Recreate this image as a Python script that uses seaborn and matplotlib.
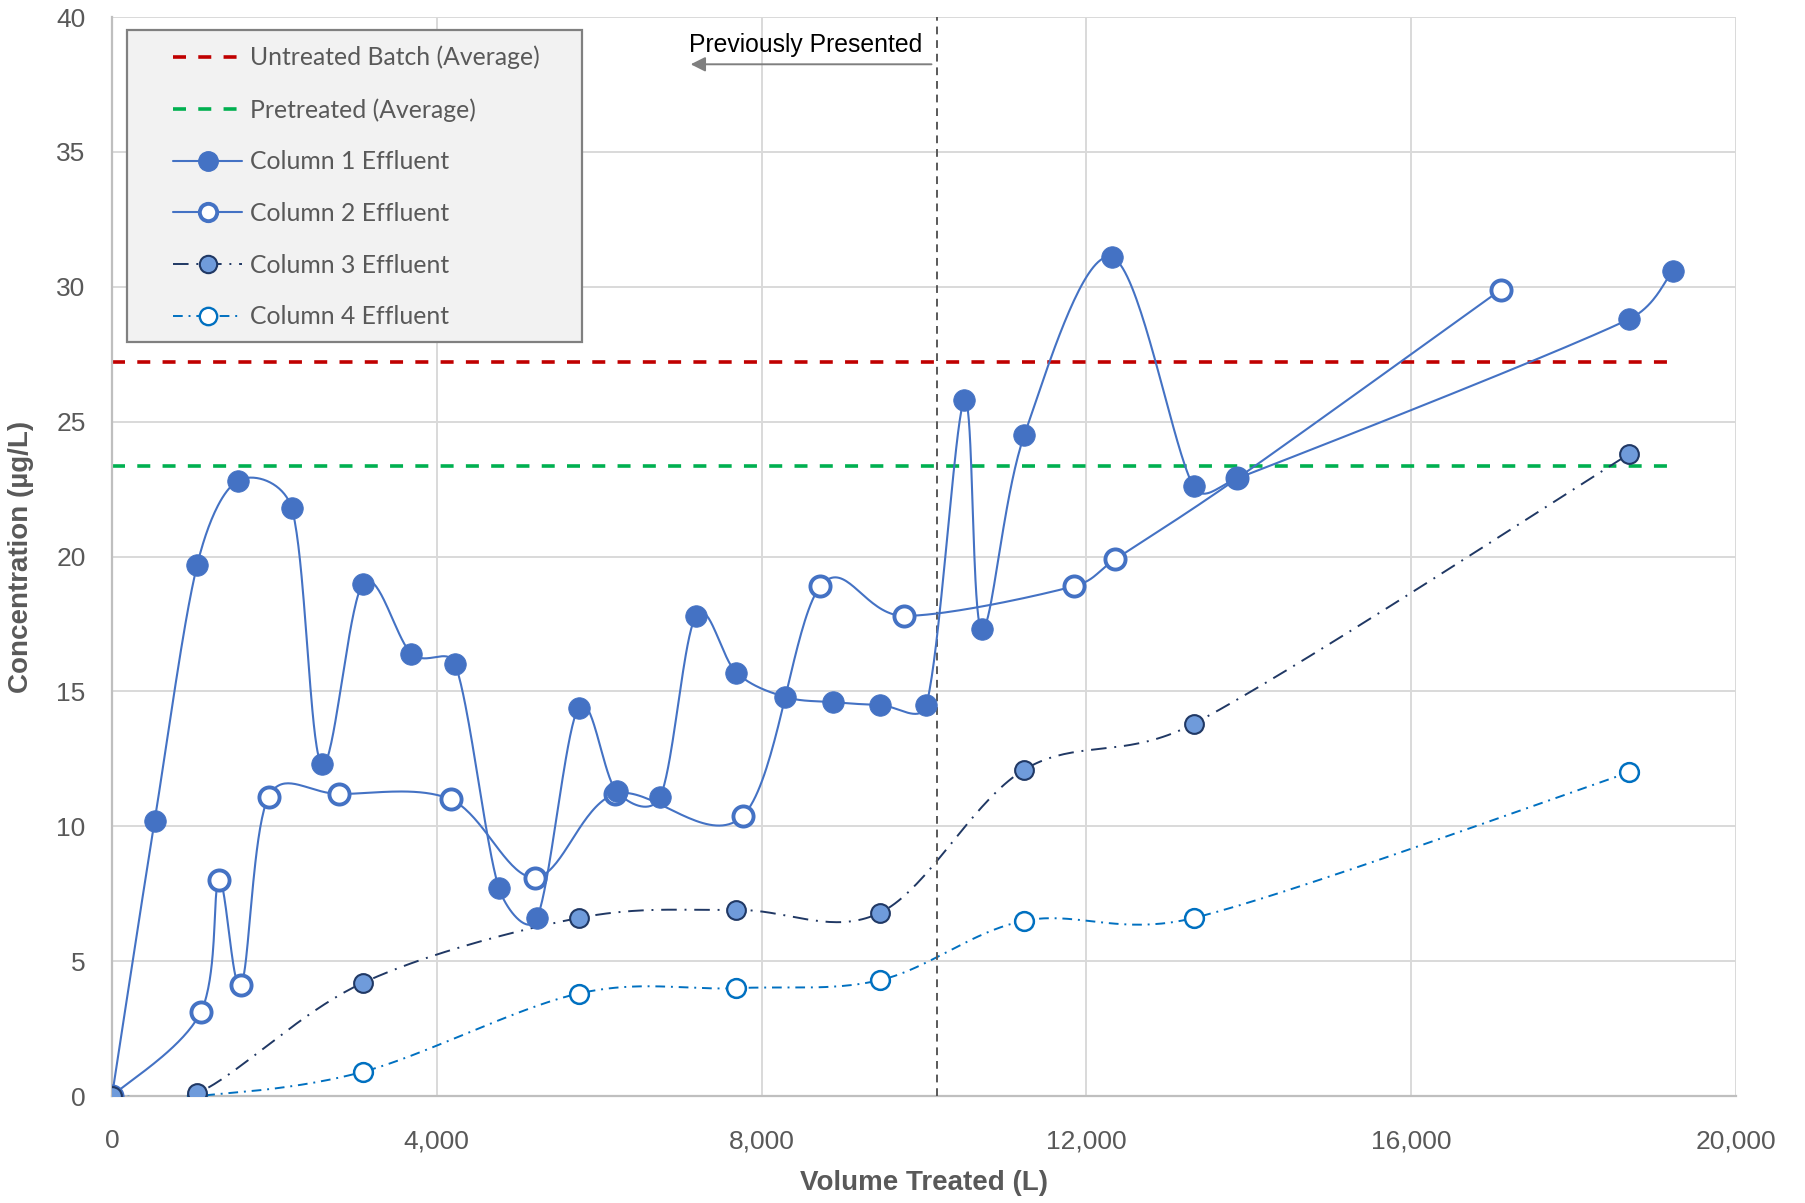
import numpy as np
import pandas as pd
import seaborn as sns
import matplotlib.pyplot as plt
from matplotlib.lines import Line2D
from matplotlib.patches import Rectangle

# data
vol_c1 = [0, 525, 1050, 1546, 2213, 2582, 3092, 3688, 4227, 4766, 5234, 5745, 6213, 6752,
          7191, 7688, 8284, 8879, 9461, 10028, 10496, 10709, 11234, 12312, 13319, 13858,
          18681, 19220]
conc_c1 = [0, 10.2, 19.7, 22.8, 21.8, 12.3, 19.0, 16.4, 16.0, 7.7, 6.6, 14.4, 11.3, 11.1,
           17.8, 15.7, 14.8, 14.6, 14.5, 14.5, 25.8, 17.3, 24.5, 31.1, 22.6, 22.9,
           28.8, 30.6]
vol_c2 = [0, 1092, 1319, 1589, 1929, 2794, 4170, 5206, 6199, 7773, 8723, 9759, 11844,
          12355, 13858, 17106]
conc_c2 = [0, 3.1, 8.0, 4.1, 11.1, 11.2, 11.0, 8.1, 11.2, 10.4, 18.9, 17.8, 18.9,
           19.9, 22.9, 29.9]
vol_c34 = [0, 1050, 3092, 5745, 7688, 9461, 11234, 13319, 18681]
conc_c3 = [0, 0.1, 4.2, 6.6, 6.9, 6.8, 12.1, 13.8, 23.8]
conc_c4 = [0, 0.0, 0.9, 3.8, 4.0, 4.3, 6.5, 6.6, 12.0]

untreated_avg = 27.2
pretreated_avg = 23.35
avg_range = [0, 19150]
prev_cutoff = 10156


def smooth(xs, ys, n=40):
    # excel style smoothed line (bezier through the points), worked out in
    # screen-like units so the control arms can be kept shorter than the segment
    sx, sy = 1.5 / 20000, 1.0 / 40
    p = np.column_stack([np.array(xs) * sx, np.array(ys) * sy]).astype(float)
    out = [p[0]]
    for i in range(len(p) - 1):
        p0 = p[i - 1] if i > 0 else p[i]
        p1, p2 = p[i], p[i + 1]
        p3 = p[i + 2] if i + 2 < len(p) else p[i + 1]
        seg = np.linalg.norm(p2 - p1)
        a1 = (p2 - p0) / 6
        a2 = (p3 - p1) / 6
        for a in (a1, a2):
            m = np.linalg.norm(a)
            if m > 0.45 * seg:
                a *= 0.45 * seg / m
        c1 = p1 + a1
        c2 = p2 - a2
        t = np.linspace(0, 1, n)[1:, None]
        pts = (1 - t) ** 3 * p1 + 3 * (1 - t) ** 2 * t * c1 + 3 * (1 - t) * t ** 2 * c2 + t ** 3 * p2
        out.extend(pts)
    out = np.array(out)
    return pd.DataFrame({'x': out[:, 0] / sx, 'y': out[:, 1] / sy})


sns.set_style("whitegrid")
plt.rcParams['font.family'] = ['Liberation Sans Narrow', 'Liberation Sans', 'DejaVu Sans']

fig = plt.figure(figsize=(18.06, 12.03), dpi=100)
ax = fig.add_axes([0.062, 0.0889, 0.8993, 0.8969])

blue = '#4472C4'
navy = '#203864'
lblue = '#0070C0'
c3fill = '#6F9BDB'

# reference averages
ax.plot(avg_range, [untreated_avg] * 2, color='#C00000', lw=2.6, dashes=(3.6, 3.4), zorder=2)
ax.plot(avg_range, [pretreated_avg] * 2, color='#00B050', lw=2.6, dashes=(3.6, 3.4), zorder=2)

# smoothed series
s4 = smooth(vol_c34, conc_c4)
sns.lineplot(data=s4, x='x', y='y', sort=False, estimator=None, ax=ax, color=lblue, lw=1.4,
             zorder=3)
ax.lines[-1].set_dashes((5, 3, 1, 3))
s3 = smooth(vol_c34, conc_c3)
sns.lineplot(data=s3, x='x', y='y', sort=False, estimator=None, ax=ax, color=navy, lw=1.4,
             zorder=3)
ax.lines[-1].set_dashes((8, 4, 1, 4))
s2 = smooth(vol_c2, conc_c2)
sns.lineplot(data=s2, x='x', y='y', sort=False, estimator=None, ax=ax, color=blue, lw=1.5,
             zorder=4)
s1 = smooth(vol_c1, conc_c1)
sns.lineplot(data=s1, x='x', y='y', sort=False, estimator=None, ax=ax, color=blue, lw=1.5,
             zorder=4)

# markers
ax.plot(vol_c34, conc_c4, ls='none', marker='o', ms=13.5, mfc='white', mec=lblue, mew=1.8, zorder=5)
ax.plot(vol_c2, conc_c2, ls='none', marker='o', ms=14.5, mfc='white', mec=blue, mew=2.8, zorder=6)
ax.plot(vol_c1, conc_c1, ls='none', marker='o', ms=15.5, mfc=blue, mec=blue, mew=0.6, zorder=7)
ax.plot(vol_c34, conc_c3, ls='none', marker='o', ms=13.5, mfc=c3fill, mec=navy, mew=1.5, zorder=8)

# previously presented marker
ax.axvline(prev_cutoff, color='#595959', lw=1.4, dashes=(4, 3), zorder=3)
ax.annotate('', xy=(7092, 38.25), xytext=(prev_cutoff - 30, 38.25),
            arrowprops=dict(arrowstyle='-|>', color='#7F7F7F', lw=1.4, mutation_scale=22))
ax.text(8546, 38.95, 'Previously Presented', ha='center', va='center', fontsize=17.8,
        family=['Liberation Sans', 'DejaVu Sans'], color='black')

ax.set_xlim(0, 20000)
ax.set_ylim(0, 40)
ax.set_xticks(range(0, 20001, 4000))
ax.set_yticks(range(0, 41, 5))
ax.xaxis.set_major_formatter(plt.FuncFormatter(lambda v, p: f'{int(v):,}'))
ax.grid(True, color='#D9D9D9', lw=1.4)
ax.set_axisbelow(True)
for side in ['top', 'right']:
    ax.spines[side].set_visible(False)
for side in ['left', 'bottom']:
    ax.spines[side].set_color('#BFBFBF')
    ax.spines[side].set_linewidth(1.6)
ax.tick_params(axis='both', length=0, labelsize=19, labelcolor='#595959')
ax.tick_params(axis='y', pad=19)
ax.tick_params(axis='x', pad=24)
ax.set_xlabel('Volume Treated (L)', fontsize=20, fontweight='bold', color='#595959', labelpad=12)
ax.set_ylabel('Concentration (µg/L)', fontsize=20, fontweight='bold', color='#595959', labelpad=16)

# legend box drawn separately so the padding matches
box = Rectangle((0.0092, 0.6985), 0.2802, 0.2895, transform=ax.transAxes,
                facecolor='#F2F2F2', edgecolor='#808080', lw=1.6, zorder=9)
ax.add_patch(box)

handles = [
    Line2D([], [], color='#C00000', lw=2.6, dashes=(3.6, 3.4)),
    Line2D([], [], color='#00B050', lw=2.6, dashes=(3.6, 3.4)),
    Line2D([], [], color=blue, lw=1.5, marker='o', ms=14, mfc=blue, mec=blue),
    Line2D([], [], color=blue, lw=1.5, marker='o', ms=12.5, mfc='white', mec=blue, mew=2.8),
    Line2D([], [], color=navy, lw=1.4, dashes=(8, 4, 1, 4), marker='o', ms=12.5, mfc=c3fill, mec=navy, mew=1.5),
    Line2D([], [], color=lblue, lw=1.4, dashes=(5, 3, 1, 3), marker='o', ms=12.5, mfc='white', mec=lblue, mew=1.7),
]
labels = ['Untreated Batch (Average)', 'Pretreated (Average)', 'Column 1 Effluent',
          'Column 2 Effluent', 'Column 3 Effluent', 'Column 4 Effluent']
leg = ax.legend(handles, labels, loc='upper left', bbox_to_anchor=(0.0376, 0.9735),
                borderaxespad=0, frameon=False, handlelength=2.8,
                handletextpad=0.3, labelspacing=1.16, borderpad=0,
                prop={'family': ['Lato', 'DejaVu Sans'], 'size': 17.8})
leg.set_zorder(10)
for t in leg.get_texts():
    t.set_color('#595959')

fig.savefig('out.png', dpi=100)
